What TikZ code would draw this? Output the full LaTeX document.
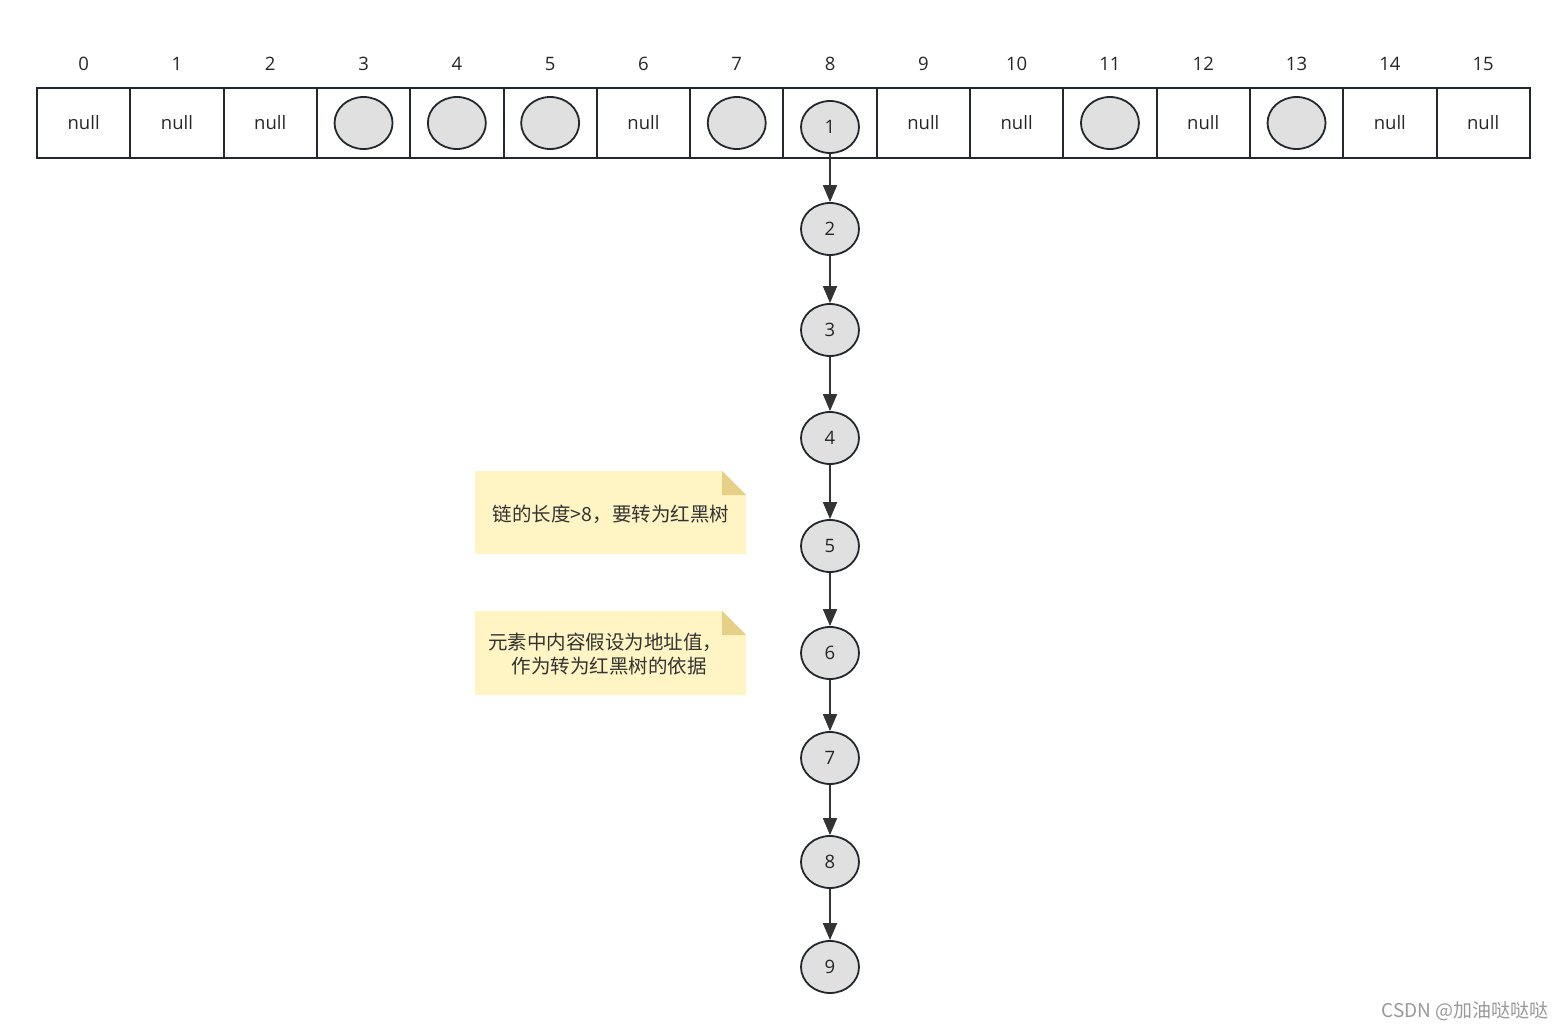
\documentclass[tikz,border=0pt]{standalone}
\usepackage{fontspec}
\setmainfont{Open Sans}
\newfontfamily\cjk{Noto Sans CJK SC}
\usetikzlibrary{shapes.geometric,arrows.meta}
\definecolor{edge}{HTML}{23282E}
\definecolor{nodefill}{HTML}{E0E0E0}
\definecolor{notefill}{HTML}{FFF4C3}
\definecolor{notefold}{HTML}{E6CF86}
\definecolor{arrowc}{HTML}{333333}
\begin{document}
\begin{tikzpicture}[x=1pt,y=-1pt,
  cell/.style={draw=edge,line width=2pt,minimum width=93.3pt,minimum height=70pt,inner sep=0pt,font=\fontsize{18.5}{20}\selectfont,text=black!85},
  idx/.style={font=\fontsize{18.5}{20}\selectfont,text=black!85},
  elem/.style={ellipse,draw=edge,line width=1.8pt,fill=nodefill,minimum width=58pt,minimum height=52pt,inner sep=0pt,font=\fontsize{18.5}{20}\selectfont,text=black!85},
  link/.style={draw=arrowc,line width=1.8pt,-{Triangle[length=17pt,width=14pt]}},
  notetext/.style={font=\cjk\fontsize{19.5}{24}\selectfont,text=black!80,align=center}
]
\useasboundingbox (0,0) rectangle (1567,1030);
% array
\foreach \i in {0,...,15}{
  \node[idx] (i\i) at ({37+93.3*(\i+0.5)},64) {\i};
}
\foreach \i/\t in {0/null,1/null,2/null,3/,4/,5/,6/null,7/,8/,9/null,10/null,11/,12/null,13/,14/null,15/null}{
  \node[cell] (c\i) at ({37+93.3*(\i+0.5)},123) {\raisebox{-1.5pt}{\t}};
}
\foreach \i in {3,4,5,7,11,13}{
  \node[elem] (e\i) at (c\i.center) {};
}
% chain
\node[elem] (n1) at (830,127) {1};
\node[elem] (n2) at (830,229) {2};
\node[elem] (n3) at (830,330) {3};
\node[elem] (n4) at (830,438) {4};
\node[elem] (n5) at (830,546) {5};
\node[elem] (n6) at (830,653) {6};
\node[elem] (n7) at (830,758) {7};
\node[elem] (n8) at (830,862) {8};
\node[elem] (n9) at (830,967) {9};
\foreach \a/\b in {1/2,2/3,3/4,4/5,5/6,6/7,7/8,8/9}{
  \draw[link] (n\a) -- (n\b);
}
% notes
\fill[notefill] (475,471) -- (722,471) -- (746,495) -- (746,554) -- (475,554) -- cycle;
\fill[notefold] (722,471) -- (746,495) -- (722,495) -- cycle;
\node[notetext] (note1) at (611,514) {链的长度>8，要转为红黑树};
\fill[notefill] (475,611) -- (722,611) -- (746,635) -- (746,695) -- (475,695) -- cycle;
\fill[notefold] (722,611) -- (746,635) -- (722,635) -- cycle;
\node[notetext] (note2) at (605,654) {元素中内容假设为地址值，\\ \ \ 作为转为红黑树的依据};
% watermark
\node[font=\cjk\fontsize{19}{22}\selectfont,text=black!40,anchor=east] (wm) at (1552,1011) {CSDN @加油哒哒哒};
\end{tikzpicture}
\end{document}
